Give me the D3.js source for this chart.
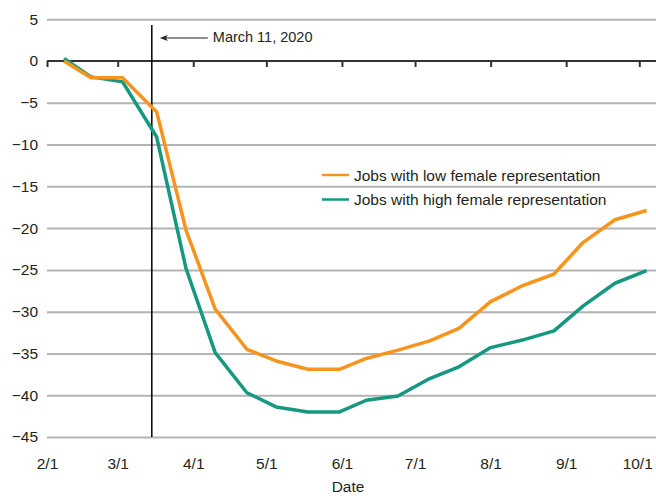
<!DOCTYPE html>
<html><head><meta charset="utf-8">
<script src="https://cdn.jsdelivr.net/npm/d3@7"></script>
<style>
body{margin:0;background:#fff;}
text{font-family:"Liberation Sans",Arial,sans-serif;fill:#231f20;}
</style></head><body>
<svg id="chart" width="656" height="496"></svg>
<script>
const dates = ["2020-02-08","2020-02-19","2020-03-03","2020-03-17","2020-03-29","2020-04-10","2020-04-23","2020-05-05","2020-05-18","2020-05-31","2020-06-11","2020-06-24","2020-07-07","2020-07-19","2020-08-01","2020-08-14","2020-08-27","2020-09-08","2020-09-21","2020-10-04"];
const lowFemale = [0,-2.0,-2.0,-6.1,-20.2,-29.7,-34.5,-35.9,-36.9,-36.9,-35.6,-34.6,-33.5,-32.0,-28.8,-26.9,-25.5,-21.7,-19.0,-17.9];
const highFemale = [0.3,-1.9,-2.5,-9.1,-24.8,-34.9,-39.7,-41.4,-42.0,-42.0,-40.6,-40.1,-38.0,-36.6,-34.3,-33.4,-32.3,-29.3,-26.6,-25.1];
const xTickDates = ["2020-02-01","2020-03-01","2020-04-01","2020-05-01","2020-06-01","2020-07-01","2020-08-01","2020-09-01","2020-10-01"];
const xTickLabels = ["2/1","3/1","4/1","5/1","6/1","7/1","8/1","9/1","10/1"];
const yTicks = [5,0,-5,-10,-15,-20,-25,-30,-35,-40,-45];
const seriesNames = ["Jobs with low female representation","Jobs with high female representation"];
const eventDate = "2020-03-15";
const eventLabel = "March 11, 2020";
const xTitle = "Date";

const parse = d3.timeParse("%Y-%m-%d");
const svg = d3.select("#chart");
const left = 47, right = 656;
const x = d3.scaleTime().domain([parse(xTickDates[0]), parse(xTickDates[xTickDates.length-1])]).range([47, 639.3]);
const y = d3.scaleLinear().domain([-45, 5]).range([437, 19.2]);
const fs = 15.5;

// gridlines
const grid = svg.append("g").attr("transform", `translate(${left},0)`)
  .call(d3.axisLeft(y).tickValues(yTicks.filter(v => v !== 0)).tickSize(-(right-left)).tickFormat(""));
grid.select(".domain").remove();
grid.selectAll("line").attr("stroke", "#b3b3b3").attr("stroke-width", 2);

// y labels
const ya = svg.append("g").attr("transform", `translate(${left},0)`)
  .call(d3.axisLeft(y).tickValues(yTicks).tickSize(0).tickPadding(9));
ya.select(".domain").remove();
ya.selectAll("text").attr("font-size", fs).attr("font-family", null).style("fill", "#231f20");

// zero axis line
svg.append("line").attr("x1", left).attr("x2", right).attr("y1", y(0)).attr("y2", y(0))
  .attr("stroke", "#333").attr("stroke-width", 2);
const xa = svg.append("g").attr("transform", `translate(0,${y(0)})`)
  .call(d3.axisBottom(x).tickValues(xTickDates.map(parse)).tickSize(6).tickFormat(""));
xa.select(".domain").remove();
xa.selectAll("line").attr("stroke", "#333").attr("stroke-width", 2);

// x labels at bottom
const xl = svg.append("g").attr("transform", `translate(0,${y(-45)})`)
  .call(d3.axisBottom(x).tickValues(xTickDates.map(parse)).tickSize(0).tickPadding(21)
    .tickFormat((d,i) => xTickLabels[i]));
xl.select(".domain").remove();
xl.selectAll("text").attr("font-size", fs).attr("font-family", null).style("fill", "#231f20");
xl.selectAll("text").filter((d,i) => i === xTickLabels.length - 1).attr("text-anchor", "end").attr("dx", 13);

svg.append("text").attr("x", 348).attr("y", 492).attr("text-anchor", "middle")
  .attr("font-size", fs).text(xTitle);

// event line
const ex = x(parse(eventDate));
svg.append("line").attr("x1", ex).attr("x2", ex).attr("y1", 25).attr("y2", y(-45))
  .attr("stroke", "#000").attr("stroke-width", 1.5);
svg.append("line").attr("x1", ex + 56).attr("x2", ex + 12).attr("y1", 38).attr("y2", 38)
  .attr("stroke", "#231f20").attr("stroke-width", 1.2);
svg.append("path").attr("d", `M${ex+8},38 L${ex+16},35 L${ex+14},38 L${ex+16},41 Z`).attr("fill", "#231f20");
svg.append("text").attr("x", ex + 61).attr("y", 42).attr("font-size", 14.5).text(eventLabel);

// lines
const colors = ["#f7941d", "#15987f"];
const line = d3.line().x(d => x(d[0])).y(d => y(d[1]));
const pts = vals => dates.map((d,i) => [parse(d), vals[i]]);
svg.append("path").attr("d", line(pts(highFemale))).attr("fill", "none")
  .attr("stroke", colors[1]).attr("stroke-width", 3.5).attr("stroke-linejoin", "round");
svg.append("path").attr("d", line(pts(lowFemale))).attr("fill", "none")
  .attr("stroke", colors[0]).attr("stroke-width", 3.5).attr("stroke-linejoin", "round");

// legend
seriesNames.forEach((n, i) => {
  const ly = 175 + i * 24.5;
  svg.append("line").attr("x1", 322).attr("x2", 349).attr("y1", ly).attr("y2", ly)
    .attr("stroke", colors[i]).attr("stroke-width", 2.5);
  svg.append("text").attr("x", 354).attr("y", ly + 5.5).attr("font-size", fs).text(n);
});
</script></body></html>
